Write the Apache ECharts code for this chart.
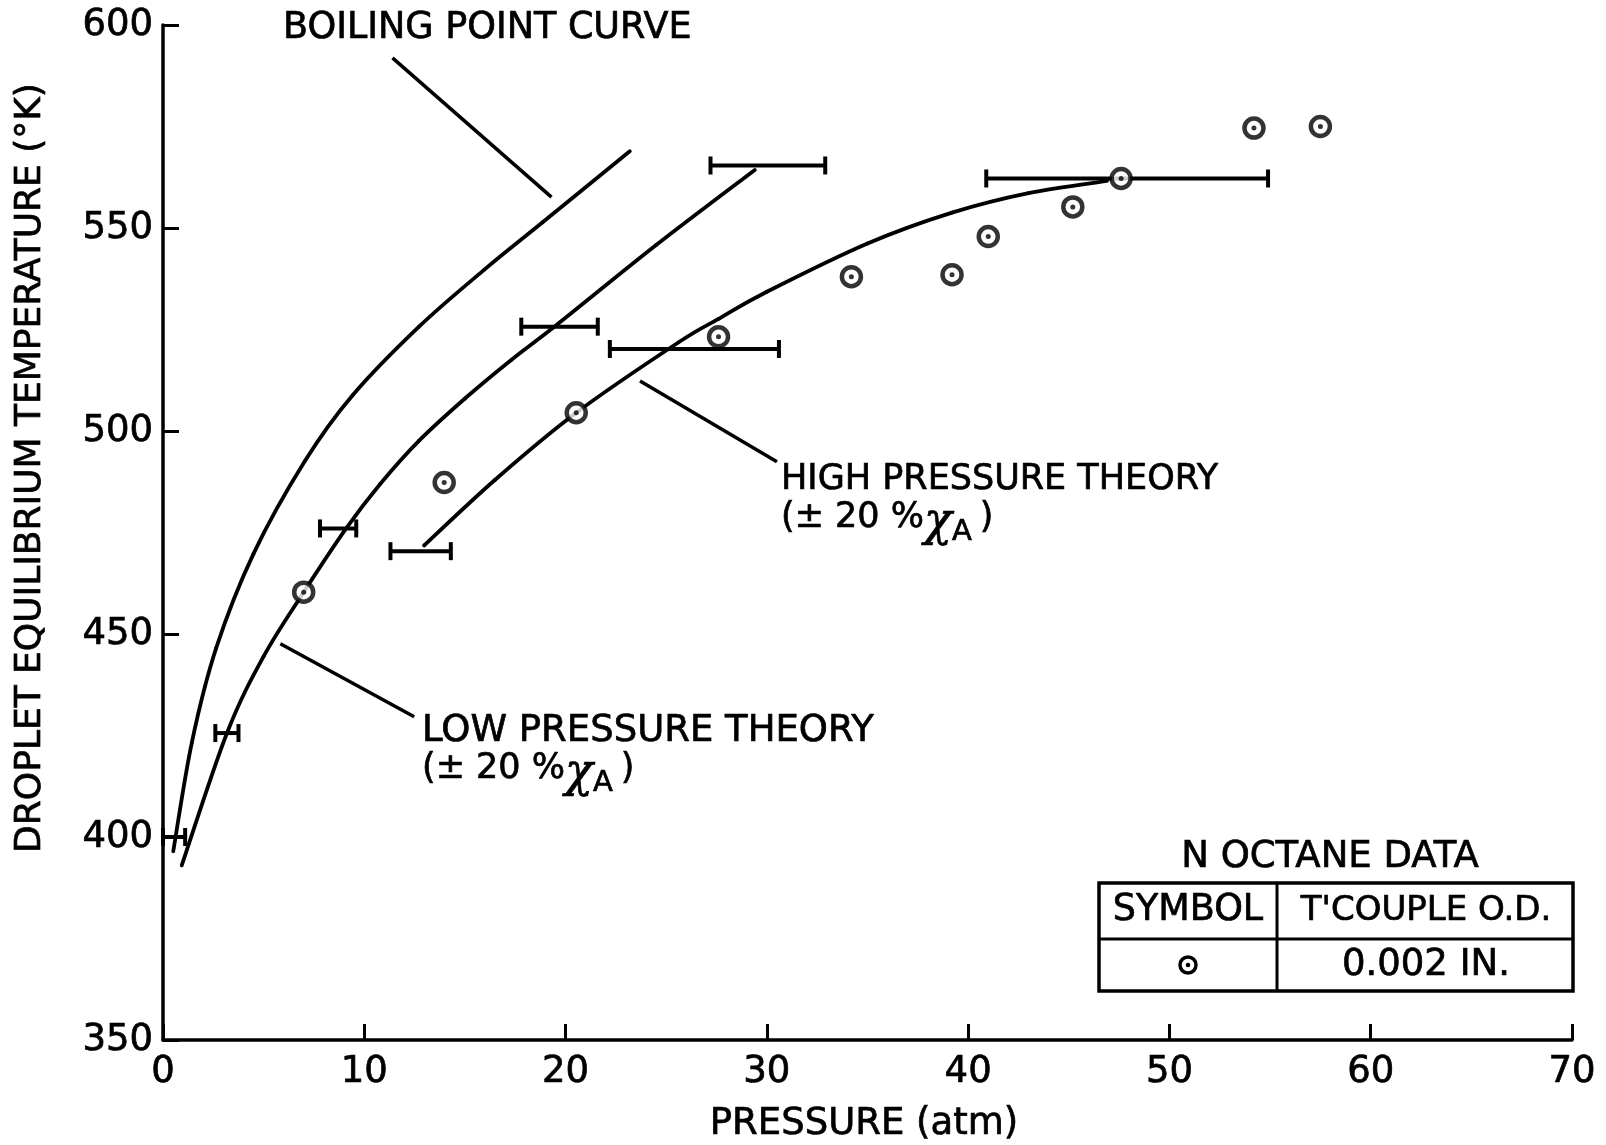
<!DOCTYPE html>
<html>
<head>
<meta charset="utf-8">
<title>Droplet equilibrium temperature vs pressure</title>
<script src="https://cdn.jsdelivr.net/npm/echarts@6/dist/echarts.min.js"></script>
<style>
  html, body { margin: 0; padding: 0; background: #ffffff; }
  #chart { width: 1606px; height: 1145px; }
</style>
</head>
<body>
<div id="chart"></div>
<script>
// ---- Axis ticks ----
const xTickValues = [0, 10, 20, 30, 40, 50, 60, 70];
const yTickValues = [350, 400, 450, 500, 550, 600];

// ---- Curves: [pressure (atm), temperature (K)] ----
const boilingPointCurve = [
  [0.51, 396.5], [1.43, 423.2], [2.64, 446.5], [4.50, 469.8], [7.05, 492.6],
  [9.42, 508.8], [12.72, 525.7], [15.98, 539.8], [18.86, 551.4], [23.19, 568.9]
];
const lowPressureTheory = [
  [0.93, 393.0], [3.17, 425.5], [5.0, 444.5], [6.99, 460.3], [9.1, 476.0],
  [10.8, 487.0], [12.7, 497.5], [15.0, 508.0], [17.3, 517.5], [19.6, 526.3],
  [24.5, 545.8], [29.4, 564.3]
];
const highPressureTheory = [
  [12.97, 471.8], [16.5, 488.0], [20.53, 504.5], [25.6, 521.8], [27.6, 527.6],
  [30.0, 534.3], [35.0, 546.2], [39.2, 553.8], [43.0, 558.6], [46.9, 561.6]
];

// ---- Theory uncertainty (±20 % X_A): [low atm, high atm, temperature K] ----
const theoryRanges = [
  [0.0, 1.1, 400.0],
  [2.6, 3.75, 425.6],
  [7.8, 9.6, 476.0],
  [17.8, 21.6, 525.7],
  [27.2, 32.9, 565.4],
  [11.3, 14.3, 470.4],
  [22.2, 30.6, 520.2],
  [40.9, 54.9, 562.2]
];

// ---- N-octane measurements, 0.002 in. thermocouple ----
const octanePressure = [6.99, 13.97, 20.53, 27.6, 34.2, 39.2, 41.0, 45.2, 47.6, 54.2, 57.5];
const octaneTemperature = [460.3, 487.3, 504.5, 523.2, 538.0, 538.5, 547.9, 555.2, 562.2, 574.6, 575.0];

// ---- Label leader lines ----
const boilingLeader = [[11.4, 591.9], [19.3, 557.6]];
const highLeader = [[23.7, 512.3], [30.5, 492.4]];
const lowLeader = [[5.83, 447.6], [12.48, 429.6]];

const FONT = 'DejaVu Sans';
const INK = '#000000';

const octanePoints = octanePressure.map((p, i) => [p, octaneTemperature[i]]);

const chart = echarts.init(document.getElementById('chart'), null, { renderer: 'canvas' });

// Smooth curve through the given points (Catmull-Rom segments as cubic Beziers),
// placed with the chart's own axis scales.
function curveSeries(name, pts) {
  return {
    name: name,
    type: 'custom',
    data: [0],
    silent: true,
    z: 3,
    renderItem: function (params, api) {
      const c = pts.map(p => api.coord(p));
      const n = c.length;
      const children = [];
      for (let i = 0; i < n - 1; i++) {
        const p0 = c[Math.max(i - 1, 0)];
        const p1 = c[i];
        const p2 = c[i + 1];
        const p3 = c[Math.min(i + 2, n - 1)];
        children.push({
          type: 'bezierCurve',
          shape: {
            x1: p1[0], y1: p1[1], x2: p2[0], y2: p2[1],
            cpx1: p1[0] + (p2[0] - p0[0]) / 6, cpy1: p1[1] + (p2[1] - p0[1]) / 6,
            cpx2: p2[0] - (p3[0] - p1[0]) / 6, cpy2: p2[1] - (p3[1] - p1[1]) / 6
          },
          style: { stroke: INK, lineWidth: 3.8, fill: null, lineCap: 'round' }
        });
      }
      return { type: 'group', children: children };
    }
  };
}

function leaderSeries(name, data) {
  return {
    name: name,
    type: 'line',
    data: data,
    showSymbol: false,
    symbol: 'none',
    silent: true,
    lineStyle: { color: INK, width: 3.5 },
    z: 3
  };
}

const TXT = { fontFamily: FONT, fill: INK, stroke: INK, lineWidth: 0.7 };
function txt(x, y, text, size, align, extra) {
  return Object.assign({ type: 'text', x: x, y: y,
    style: Object.assign({}, TXT, { text: text, fontSize: size, align: align || 'left', verticalAlign: 'middle' }) },
    extra || {});
}

// "(± 20 %χ_A)" with a lowered subscript
const subRich = {
  n: { fontFamily: FONT, fontSize: 35, fill: INK, stroke: INK, lineWidth: 0.7,
       verticalAlign: 'top', lineHeight: 42 },
  c: { fontFamily: 'DejaVu Serif', fontStyle: 'italic', fontSize: 46, fill: INK, stroke: INK,
       lineWidth: 0.7, verticalAlign: 'top', lineHeight: 42 },
  s: { fontFamily: FONT, fontSize: 29, fill: INK, stroke: INK, lineWidth: 0.7,
       verticalAlign: 'top', lineHeight: 30, padding: [18, 8, 0, 0] }
};
const xaText = '{n|(± 20 %}{c|χ}{s|A}{n|)}';

const axisLabelStyle = { show: true, color: INK, fontFamily: FONT, fontSize: 37,
  textBorderColor: INK, textBorderWidth: 0.7 };

const option = {
  backgroundColor: '#ffffff',
  animation: false,
  grid: { left: 163, right: 34, top: 25, bottom: 105, containLabel: false },
  xAxis: {
    type: 'value',
    min: xTickValues[0],
    max: xTickValues[xTickValues.length - 1],
    interval: 10,
    axisLine: { show: true, lineStyle: { color: INK, width: 3.5 } },
    axisTick: { show: true, inside: true, length: 16, lineStyle: { color: INK, width: 3 } },
    axisLabel: Object.assign({ margin: 14, formatter: v => xTickValues.includes(v) ? String(v) : '' }, axisLabelStyle),
    splitLine: { show: false }
  },
  yAxis: {
    type: 'value',
    min: yTickValues[0],
    max: yTickValues[yTickValues.length - 1],
    interval: 50,
    axisLine: { show: true, lineStyle: { color: INK, width: 3.5 } },
    axisTick: { show: true, inside: true, length: 16, lineStyle: { color: INK, width: 3 } },
    axisLabel: Object.assign({ margin: 10, formatter: v => yTickValues.includes(v) ? String(v) : '' }, axisLabelStyle),
    splitLine: { show: false }
  },
  series: [
    curveSeries('Boiling point curve', boilingPointCurve),
    curveSeries('Low pressure theory', lowPressureTheory),
    curveSeries('High pressure theory', highPressureTheory),
    leaderSeries('boiling leader', boilingLeader),
    leaderSeries('high leader', highLeader),
    leaderSeries('low leader', lowLeader),
    {
      name: 'Theory range',
      type: 'custom',
      data: theoryRanges,
      silent: true,
      z: 4,
      renderItem: function (params, api) {
        const a = api.coord([api.value(0), api.value(2)]);
        const b = api.coord([api.value(1), api.value(2)]);
        const cap = 9;
        const st = { stroke: INK, lineWidth: 4, fill: null };
        return {
          type: 'group',
          children: [
            { type: 'line', shape: { x1: a[0], y1: a[1], x2: b[0], y2: b[1] }, style: st },
            { type: 'line', shape: { x1: a[0], y1: a[1] - cap, x2: a[0], y2: a[1] + cap }, style: st },
            { type: 'line', shape: { x1: b[0], y1: b[1] - cap, x2: b[0], y2: b[1] + cap }, style: st }
          ]
        };
      }
    },
    {
      name: 'N octane data',
      type: 'scatter',
      data: octanePoints,
      symbol: 'circle',
      symbolSize: 19,
      silent: true,
      itemStyle: { color: '#ffffff', borderColor: INK, borderWidth: 4.5 },
      z: 5
    },
    {
      name: 'N octane data centre',
      type: 'scatter',
      data: octanePoints,
      symbol: 'circle',
      symbolSize: 5,
      silent: true,
      itemStyle: { color: INK },
      z: 6
    }
  ],
  graphic: [
    // axis titles
    txt(31, 468, 'DROPLET EQUILIBRIUM TEMPERATURE (°K)', 36, 'center', { rotation: Math.PI / 2 }),
    txt(864, 1124, 'PRESSURE (atm)', 37, 'center'),
    // curve labels
    txt(283, 29, 'BOILING POINT CURVE', 36.5, 'left'),
    txt(781, 480, 'HIGH PRESSURE THEORY', 35, 'left'),
    { type: 'text', x: 781, y: 500,
      style: { text: xaText, rich: subRich, align: 'left', verticalAlign: 'top' } },
    txt(422, 731, 'LOW PRESSURE THEORY', 37, 'left'),
    { type: 'text', x: 422, y: 751,
      style: { text: xaText, rich: subRich, align: 'left', verticalAlign: 'top' } },
    // data key table
    txt(1330, 857, 'N OCTANE DATA', 37, 'center'),
    { type: 'rect', shape: { x: 1099, y: 883, width: 474, height: 108 },
      style: { fill: 'none', stroke: INK, lineWidth: 3.5 } },
    { type: 'line', shape: { x1: 1277, y1: 883, x2: 1277, y2: 991 },
      style: { stroke: INK, lineWidth: 3 } },
    { type: 'line', shape: { x1: 1099, y1: 939, x2: 1573, y2: 939 },
      style: { stroke: INK, lineWidth: 3 } },
    txt(1188, 911, 'SYMBOL', 36.5, 'center'),
    txt(1426, 911, "T'COUPLE O.D.", 34, 'center'),
    { type: 'circle', shape: { cx: 1188, cy: 965, r: 8 },
      style: { fill: '#ffffff', stroke: INK, lineWidth: 3.5 } },
    { type: 'circle', shape: { cx: 1188, cy: 965, r: 2.3 },
      style: { fill: INK } },
    txt(1426, 965, '0.002 IN.', 37, 'center')
  ]
};

chart.setOption(option);
</script>
</body>
</html>
